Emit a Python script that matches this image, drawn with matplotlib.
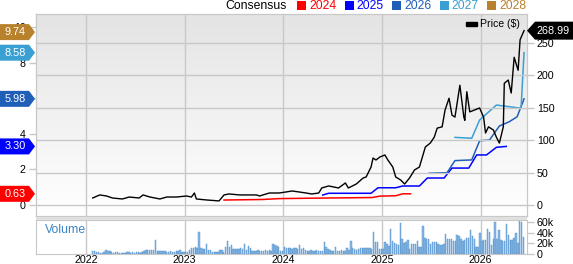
import numpy as np
import matplotlib.pyplot as plt
from matplotlib.patches import Polygon, Rectangle

plt.rcParams['font.family'] = ['Liberation Sans', 'DejaVu Sans']

# price (decimal year, $)
price_year = [2022.07, 2022.14, 2022.21, 2022.27, 2022.37, 2022.44, 2022.54, 2022.58, 2022.65, 2022.75,
              2022.82, 2022.92, 2023.02, 2023.07, 2023.10, 2023.12, 2023.22, 2023.35, 2023.40, 2023.45,
              2023.56, 2023.73, 2023.76, 2023.86, 2023.96, 2024.03, 2024.09, 2024.16, 2024.23, 2024.29,
              2024.36, 2024.39, 2024.46, 2024.51, 2024.56, 2024.63, 2024.66, 2024.74, 2024.81, 2024.84,
              2024.89, 2024.91, 2024.94, 2024.98, 2025.03, 2025.06, 2025.11, 2025.14, 2025.19, 2025.23,
              2025.28, 2025.33, 2025.38, 2025.41, 2025.44, 2025.49, 2025.53, 2025.56, 2025.61, 2025.64,
              2025.68, 2025.71, 2025.74, 2025.79, 2025.83, 2025.84, 2025.86, 2025.89, 2025.94, 2025.99,
              2026.03, 2026.05, 2026.08, 2026.13, 2026.16, 2026.19, 2026.23, 2026.24, 2026.28, 2026.31,
              2026.34, 2026.38, 2026.40, 2026.44]
price = [11.5, 16.2, 14.6, 11.5, 10.0, 13.0, 11.5, 16.2, 13.0, 10.0,
         13.0, 13.0, 14.6, 13.0, 19.2, 10.0, 8.5, 7.0, 16.2, 17.7,
         16.2, 16.2, 14.6, 19.2, 19.2, 20.8, 22.3, 20.8, 19.2, 17.7,
         19.2, 26.9, 30.0, 28.5, 26.9, 34.6, 26.9, 33.0, 42.3, 43.8,
         59.2, 73.0, 70.0, 74.6, 77.7, 70.0, 59.2, 43.8, 39.2, 33.0,
         42.3, 54.6, 59.2, 74.6, 90.0, 96.0, 105.0, 119.0, 121.0, 147.0,
         165.0, 139.0, 136.0, 185.0, 136.0, 131.0, 175.0, 144.0, 147.0, 150.0,
         136.0, 111.5, 121.0, 116.0, 105.0, 96.0, 121.0, 188.0, 193.0, 173.0,
         228.0, 208.0, 255.0, 268.99]

# consensus EPS estimates
eps24_year = [2023.40, 2023.79, 2023.96, 2024.39, 2024.90, 2024.98, 2025.14, 2025.21, 2025.29]
eps24 = [0.28, 0.31, 0.36, 0.39, 0.42, 0.50, 0.52, 0.63, 0.63]
eps25_year = [2024.40, 2024.46, 2024.89, 2024.96, 2025.14, 2025.21, 2025.38, 2025.46,
              2025.63, 2025.71, 2025.88, 2025.96, 2026.06, 2026.16, 2026.26]
eps25 = [0.56, 0.66, 0.66, 0.97, 0.97, 1.07, 1.07, 1.52, 1.52, 2.08, 2.08, 2.82, 2.82, 3.25, 3.30]
eps26_year = [2025.48, 2025.66, 2025.74, 2025.91, 2025.99, 2026.09, 2026.19, 2026.29, 2026.37, 2026.44]
eps26 = [1.79, 1.82, 2.50, 2.54, 3.62, 3.66, 4.45, 4.69, 4.97, 5.98]
eps27_year = [2025.74, 2025.91, 2025.99, 2026.16, 2026.37, 2026.41, 2026.44]
eps27 = [3.81, 3.76, 4.79, 5.63, 5.48, 5.46, 8.58]

last_eps = {'2024': 0.63, '2025': 3.30, '2026': 5.98, '2027': 8.58, '2028': 9.74}
cons_colors = {'2024': '#ff0000', '2025': '#0000ff', '2026': '#1f5fb8', '2027': '#3a9fd2', '2028': '#b8822c'}

# weekly volume, thousands
vol_start = 2022.07
volume = [6, 5, 4, 3, 2, 2, 3, 8, 6, 5,
          3, 2, 3, 3, 2, 2, 2, 2, 3, 3,
          2, 3, 2, 3, 3, 2, 3, 5, 8, 8,
          7, 8, 7, 27, 6, 6, 5, 6, 5, 4,
          4, 5, 4, 4, 6, 5, 8, 4, 4, 4,
          4, 8, 10, 11, 12, 10, 41, 10, 9, 9,
          18, 8, 8, 4, 4, 4, 4, 8, 7, 4,
          13, 24, 13, 16, 9, 9, 9, 9, 10, 9,
          18, 8, 15, 10, 6, 6, 6, 7, 6, 5,
          6, 7, 6, 7, 6, 18, 16, 15, 12, 5,
          5, 13, 10, 11, 10, 9, 10, 10, 9, 16,
          9, 10, 7, 6, 5, 7, 6, 5, 7, 5,
          6, 5, 22, 12, 9, 8, 5, 6, 13, 6,
          5, 7, 6, 6, 11, 7, 24, 10, 9, 8,
          9, 10, 11, 11, 10, 11, 10, 9, 41, 23,
          23, 9, 9, 9, 22, 18, 15, 48, 24, 20,
          18, 17, 58, 28, 21, 22, 27, 9, 19, 18,
          19, 24, 13, 12, 53, 30, 28, 28, 18, 23,
          23, 22, 18, 16, 16, 18, 37, 29, 29, 29,
          24, 24, 35, 33, 28, 25, 26, 30, 30, 45,
          34, 28, 13, 13, 40, 24, 26, 26, 48, 42,
          16, 28, 60, 28, 45, 27, 24, 24, 56, 35,
          27, 27, 30, 39, 20, 62, 60, 32]
vol_year = vol_start + np.arange(len(volume)) / 52.0

years = [2022, 2023, 2024, 2025, 2026]

W, H = 573, 264
fig = plt.figure(figsize=(W / 100, H / 100), dpi=100)


def box(x0, y0, x1, y1):
    return [x0 / W, 1 - y1 / H, (x1 - x0) / W, (y1 - y0) / H]


def fpt(x, y):
    return (x / W, 1 - y / H)


grid_c = '#c8c8c8'
tick_fs = 7.7
xlim = (2021.49, 2026.47)

ax = fig.add_axes(box(35.5, 14, 527, 216))
ax2 = ax.twinx()
axv = fig.add_axes(box(35.5, 219.5, 527, 253.7))

# background gradient of the price panel
grad = np.linspace(0, 1, 256).reshape(-1, 1)
ax.imshow(grad, cmap=plt.matplotlib.colors.LinearSegmentedColormap.from_list('g', ['#e4e4e4', '#ffffff']),
          extent=[0, 1, 0, 1], transform=ax.transAxes, aspect='auto', zorder=0, origin='upper')

ax.set_xlim(*xlim)
ax.set_ylim(-0.62, 10.76)
ax2.set_ylim(-16.2, 294.6)

for y in years:
    ax.axvline(y, color=grid_c, lw=1, zorder=1)
    axv.axvline(y, color=grid_c, lw=1, zorder=0)
for p in [0, 50, 100, 150, 200, 250]:
    ax2.axhline(p, color=grid_c, lw=1, zorder=1)

ax.plot(eps24_year, eps24, color=cons_colors['2024'], lw=1.1, zorder=3)
ax.plot(eps25_year, eps25, color=cons_colors['2025'], lw=1.1, zorder=3)
ax.plot(eps26_year, eps26, color=cons_colors['2026'], lw=1.1, zorder=3)
ax.plot(eps27_year, eps27, color=cons_colors['2027'], lw=1.1, zorder=3)
ax2.plot(price_year, price, color='black', lw=1.0, zorder=4)

ax.set_yticks([0, 2, 4, 6, 8, 10])
ax.tick_params(axis='y', length=5, width=1, color=grid_c, labelsize=tick_fs, pad=2)
ax.set_xticks([])
ax2.set_yticks([0, 50, 100, 150, 200, 250])
ax2.tick_params(axis='y', length=5, width=1, color=grid_c, labelsize=tick_fs, pad=2)
ax2.patch.set_visible(False)
for a in (ax, ax2, axv):
    for s in a.spines.values():
        s.set_color(grid_c)

# volume panel
axv.bar(vol_year, volume, width=0.75 / 52, color='#8ab8e2', edgecolor='#4a8ccc', linewidth=0.3, zorder=2)
axv.set_xlim(*xlim)
axv.set_ylim(0, 65.5)
axv.yaxis.tick_right()
axv.set_yticks([0, 20, 40, 60])
axv.set_yticklabels(['0', '20k', '40k', '60k'])
axv.tick_params(axis='y', length=5, width=1, color=grid_c, labelsize=tick_fs, pad=2)
axv.set_xticks(years)
axv.set_xticklabels([str(y) for y in years])
axv.tick_params(axis='x', length=0, labelsize=tick_fs, pad=1)
axv.text(0.02, 0.7, 'Volume', transform=axv.transAxes, color='#3d85c6', fontsize=8.8, va='center')
fig.patches.append(Rectangle(fpt(35.5, 219.5), (527 - 35.5) / W, 2.5 / H, transform=fig.transFigure,
                             facecolor='#e0e0e0', edgecolor='none'))

# price legend inside
ax2.add_patch(Rectangle((0.876, 0.94), 0.022, 0.02, transform=ax.transAxes, color='black', clip_on=False))
ax2.text(0.905, 0.95, 'Price ($)', transform=ax.transAxes, fontsize=7.6, va='center')

# consensus legend at top
fig.text(*fpt(225, 6), 'Consensus', fontsize=8.8, va='center')
lx = 297
for yr in ['2024', '2025', '2026', '2027', '2028']:
    fig.patches.append(Rectangle(fpt(lx, 10), 9 / W, 8.5 / H, transform=fig.transFigure,
                                 facecolor=cons_colors[yr], edgecolor='none'))
    fig.text(*fpt(lx + 12, 6), yr, fontsize=8.8, va='center', color=cons_colors[yr])
    lx += 47.5

fig.canvas.draw()

# left value tags for the latest estimates
for yr, v in last_eps.items():
    yd = ax.transData.transform((xlim[0], v))[1]
    yc = H - yd
    pts = [fpt(0, yc - 8), fpt(29, yc - 8), fpt(35, yc), fpt(29, yc + 8), fpt(0, yc + 8)]
    fig.patches.append(Polygon(pts, closed=True, transform=fig.transFigure,
                               facecolor=cons_colors[yr], edgecolor='none', zorder=5))
    fig.text(*fpt(15, yc), '%.2f' % v, color='white', fontsize=7.8, ha='center', va='center', zorder=6)

# right tag for last price
yd = ax2.transData.transform((xlim[1], price[-1]))[1]
yc = H - yd
pts = [fpt(527, yc), fpt(535, yc - 9), fpt(573, yc - 9), fpt(573, yc + 9), fpt(535, yc + 9)]
fig.patches.append(Polygon(pts, closed=True, transform=fig.transFigure, facecolor='black',
                           edgecolor='none', zorder=5))
fig.text(*fpt(553.5, yc), '%.2f' % price[-1], color='white', fontsize=7.8, ha='center', va='center', zorder=6)

fig.savefig('out.png', dpi=100)
